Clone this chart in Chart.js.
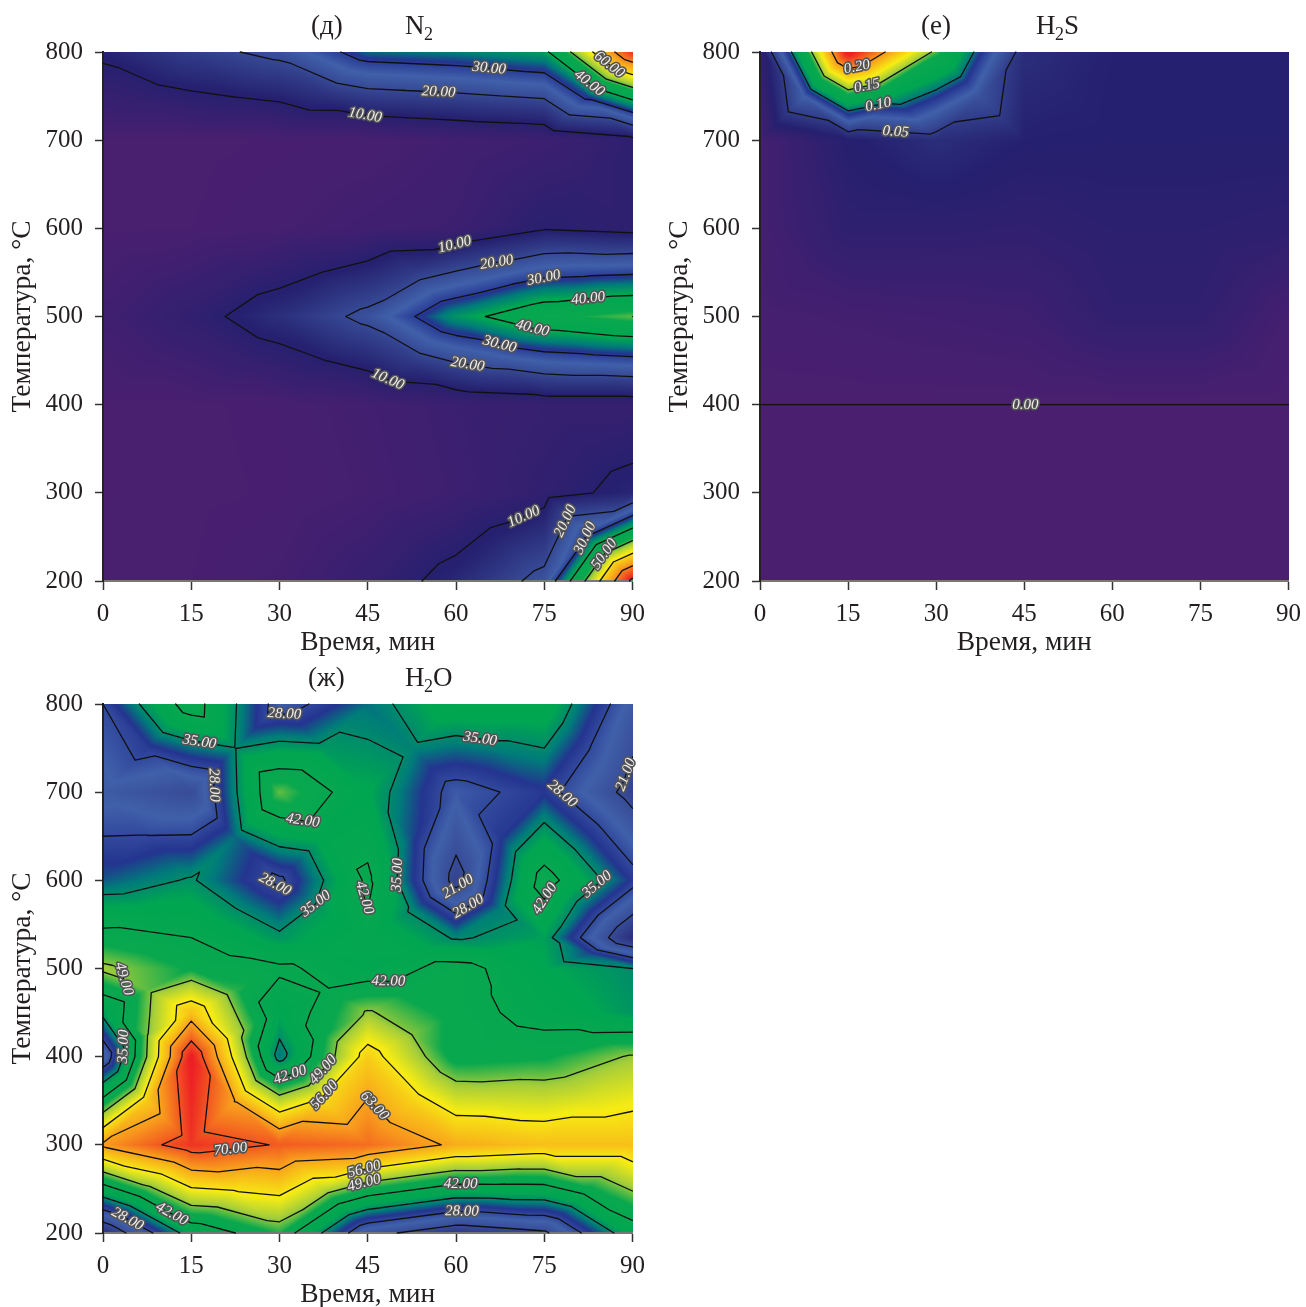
<!DOCTYPE html>
<html>
<head>
<meta charset="utf-8">
<title>N2, H2S, H2O</title>
<script src="https://cdn.jsdelivr.net/npm/chart.js@4"></script>
<style>
  html, body { margin: 0; background: #fff; }
  body { position: relative; width: 1306px; height: 1307px; overflow: hidden; }
  canvas { position: absolute; }
  #chartN2 { left: 0; top: 0; }
  #chartH2S { left: 657px; top: 0; }
  #chartH2O { left: 0; top: 652px; }
</style>
</head>
<body>
<canvas id="chartN2" width="654" height="659"></canvas>
<canvas id="chartH2S" width="653" height="659"></canvas>
<canvas id="chartH2O" width="654" height="659"></canvas>
<script>
const times = [0, 15, 30, 45, 60, 75, 90];
const tempRows = [800, 700, 600, 500, 400, 300, 200];
const tempRowsH2O = [800, 700, 600, 535, 500, 450, 400, 300, 200];

// one list per temperature row, top to bottom
const n2Values = [
  [11.4, 17.5, 22, 33.5, 35, 38, 78],
  [0.5, 0.5, 0.8, 1, 2.7, 4, 8],
  [0.5, 0.7, 1.5, 3, 4, 9.5, 8],
  [3, 7.5, 14, 22, 37, 46, 50],
  [0.4, 0.5, 1, 2.5, 4.5, 6, 6],
  [0.4, 0.5, 0.8, 2, 4, 7.5, 12],
  [0.5, 0.7, 2, 6, 12.5, 22.5, 82]
];
const h2sValues = [
  [0.022, 0.24, 0.145, 0.04, 0.032, 0.032, 0.032],
  [0.006, 0.03, 0.04, 0.032, 0.031, 0.031, 0.031],
  [0.006, 0.024, 0.024, 0.022, 0.026, 0.026, 0.024],
  [0.004, 0.006, 0.008, 0.01, 0.022, 0.022, 0.005],
  [0.0005, 0.0005, 0.0005, 0.0005, 0.0005, 0.0005, 0.0005],
  [0, 0, 0, 0, 0, 0, 0],
  [0, 0, 0, 0, 0, 0, 0]
];
const h2oValues = [
  [28, 45, 25.5, 33, 40, 40, 24],
  [24, 21, 48, 38, 26, 30, 19],
  [32, 35.5, 27, 43, 19, 44.5, 30],
  [44, 42, 36, 41, 34.5, 37, 15],
  [50, 45, 43, 39, 44, 38, 35],
  [36.5, 60, 38, 49.5, 44, 40, 36],
  [23, 75.5, 33, 58.5, 44, 45, 49.5],
  [64, 73, 69.6, 68, 62, 60, 60],
  [15, 38, 46, 23, 17, 20, 39]
];

const n2Levels = [10, 20, 30, 40, 50, 60, 70, 80];
const h2sLevels = [0.0005, 0.05, 0.10, 0.15, 0.20];
const h2oLevels = [21, 28, 35, 42, 49, 56, 63, 70];

// contour labels: value, then roughly where it sits (min, deg C)
const n2Labels = [
  [30, 65.6, 780], [20, 57, 751], [10, 44.4, 723], [40, 82, 759], [60, 85.4, 780],
  [10, 59.8, 581], [20, 67, 558], [30, 75, 541], [40, 82.5, 518], [40, 72.9, 485],
  [30, 67.3, 466], [20, 61.9, 443], [10, 48.3, 427], [10, 72, 266], [20, 79.2, 266],
  [30, 82.5, 247], [50, 85.3, 230]
];
const h2sLabels = [
  [0.20, 16.6, 780], [0.15, 18.3, 759], [0.10, 20.2, 738], [0.05, 23.1, 708], [0.0005, 45.2, 400]
];
const h2oLabels = [
  [35, 16.3, 753], [28, 30.8, 786], [35, 64, 756], [28, 18.5, 708], [42, 33.9, 666],
  [28, 78.3, 700], [21, 87.6, 723], [28, 28.8, 590], [35, 36.6, 572], [42, 44.2, 580],
  [35, 50.5, 606], [21, 60.5, 591], [28, 62.2, 569], [42, 75.4, 578], [35, 84.4, 592],
  [49, 3.7, 476], [35, 4, 413], [42, 48.5, 472], [42, 31.9, 377], [49, 37.8, 383],
  [56, 38, 354], [63, 45.4, 340], [70, 21.7, 293], [56, 44.4, 272], [49, 44.4, 256],
  [42, 60.8, 252], [28, 61, 221], [42, 11.4, 218], [28, 4, 214]
];

// colour ramp of the plots
const ramp = [
  [0, 75, 31, 112], [0.13, 37, 32, 111], [0.31, 64, 96, 170], [0.38, 36, 52, 144],
  [0.42, 0, 123, 122], [0.475, 0, 166, 81], [0.58, 10, 168, 78], [0.64, 166, 206, 57],
  [0.71, 247, 236, 19], [0.83, 248, 152, 29], [0.97, 237, 32, 36]
];

function rampColor(f) {
  if (f <= 0) return ramp[0].slice(1);
  for (let i = 1; i < ramp.length; i++) {
    if (f <= ramp[i][0]) {
      const a = ramp[i - 1], b = ramp[i];
      const k = (f - a[0]) / (b[0] - a[0]);
      return [a[1] + (b[1] - a[1]) * k, a[2] + (b[2] - a[2]) * k, a[3] + (b[3] - a[3]) * k];
    }
  }
  return ramp[ramp.length - 1].slice(1);
}

// value inside a grid, each cell split in four triangles around its centre
function gridValue(rows, values, t, T) {
  let i = 0;
  while (i < times.length - 2 && t > times[i + 1]) i++;
  let j = 0;
  while (j < rows.length - 2 && T < rows[j + 1]) j++;
  const u = (t - times[i]) / (times[i + 1] - times[i]);
  const v = (T - rows[j + 1]) / (rows[j] - rows[j + 1]);
  const a = values[j + 1][i], b = values[j + 1][i + 1], c = values[j][i + 1], d = values[j][i];
  const m = (a + b + c + d) / 4;
  if (v <= u && v <= 1 - u) return a * (1 - u - v) + b * (u - v) + m * 2 * v;
  if (v >= u && v >= 1 - u) return d * (v - u) + c * (u + v - 1) + m * 2 * (1 - v);
  if (u <= v) return a * (1 - v - u) + d * (v - u) + m * 2 * u;
  return b * (u - v) + c * (u + v - 1) + m * 2 * (1 - u);
}

function contourSegments(rows, values, level, xs, ys) {
  const segs = [];
  const cross = (p, q) => {
    const k = (level - p[2]) / (q[2] - p[2]);
    return [p[0] + (q[0] - p[0]) * k, p[1] + (q[1] - p[1]) * k];
  };
  for (let j = 0; j < rows.length - 1; j++) {
    for (let i = 0; i < times.length - 1; i++) {
      const a = [xs.getPixelForValue(times[i]), ys.getPixelForValue(rows[j + 1]), values[j + 1][i]];
      const b = [xs.getPixelForValue(times[i + 1]), a[1], values[j + 1][i + 1]];
      const c = [b[0], ys.getPixelForValue(rows[j]), values[j][i + 1]];
      const d = [a[0], c[1], values[j][i]];
      const m = [(a[0] + b[0]) / 2, (a[1] + c[1]) / 2, (a[2] + b[2] + c[2] + d[2]) / 4];
      [[a, b], [b, c], [c, d], [d, a]].forEach(([p, q]) => {
        const tri = [p, q, m];
        const pts = [];
        for (let n = 0; n < 3; n++) {
          const s = tri[n], e = tri[(n + 1) % 3];
          if ((s[2] >= level) !== (e[2] >= level)) pts.push(cross(s, e));
        }
        if (pts.length === 2) segs.push(pts);
      });
    }
  }
  return segs;
}

const contourPlugin = {
  id: 'contourMap',
  beforeDraw(chart, args, opts) {
    const { left, top, width, height } = chart.chartArea;
    const xs = chart.scales.x, ys = chart.scales.y;
    const w = Math.round(width), h = Math.round(height);
    const off = document.createElement('canvas');
    off.width = w;
    off.height = h;
    const g = off.getContext('2d');
    const img = g.createImageData(w, h);
    for (let py = 0; py < h; py++) {
      const T = ys.getValueForPixel(top + py + 0.5);
      for (let px = 0; px < w; px++) {
        const t = xs.getValueForPixel(left + px + 0.5);
        const val = gridValue(opts.rows, opts.values, t, T);
        const col = rampColor((val - opts.min) / (opts.max - opts.min));
        const p = (py * w + px) * 4;
        img.data[p] = col[0];
        img.data[p + 1] = col[1];
        img.data[p + 2] = col[2];
        img.data[p + 3] = 255;
      }
    }
    g.putImageData(img, 0, 0);
    chart.ctx.drawImage(off, left, top);
  },
  afterDatasetsDraw(chart, args, opts) {
    const ctx = chart.ctx;
    const xs = chart.scales.x, ys = chart.scales.y;
    const segsByLevel = new Map();
    ctx.save();
    ctx.strokeStyle = '#111';
    ctx.lineWidth = 1.3;
    ctx.lineCap = 'round';
    opts.levels.forEach(level => {
      const segs = contourSegments(opts.rows, opts.values, level, xs, ys);
      segsByLevel.set(level, segs);
      ctx.beginPath();
      segs.forEach(s => {
        ctx.moveTo(s[0][0], s[0][1]);
        ctx.lineTo(s[1][0], s[1][1]);
      });
      ctx.stroke();
    });
    // labels snap to the closest piece of their own line
    ctx.font = 'italic 15px "Liberation Serif"';
    ctx.textAlign = 'center';
    ctx.textBaseline = 'middle';
    ctx.lineJoin = 'round';
    opts.labels.forEach(([level, t, T]) => {
      const px = xs.getPixelForValue(t), py = ys.getPixelForValue(T);
      let best = null, bestD = Infinity;
      (segsByLevel.get(level) || []).forEach(s => {
        const dx = s[1][0] - s[0][0], dy = s[1][1] - s[0][1];
        const len = dx * dx + dy * dy;
        if (len < 0.01) return;
        const k = Math.max(0, Math.min(1, ((px - s[0][0]) * dx + (py - s[0][1]) * dy) / len));
        const qx = s[0][0] + dx * k, qy = s[0][1] + dy * k;
        const d = (qx - px) ** 2 + (qy - py) ** 2;
        if (d < bestD) { bestD = d; best = { x: qx, y: qy, a: Math.atan2(dy, dx) }; }
      });
      if (!best) return;
      let a = best.a;
      if (a > Math.PI / 2) a -= Math.PI;
      if (a < -Math.PI / 2) a += Math.PI;
      ctx.save();
      ctx.translate(best.x, best.y);
      ctx.rotate(a);
      const text = level.toFixed(2);
      ctx.strokeStyle = '#555';
      ctx.lineWidth = 3.2;
      ctx.strokeText(text, 0, 0);
      ctx.fillStyle = '#f2efee';
      ctx.fillText(text, 0, 0);
      ctx.restore();
    });
    ctx.restore();
  },
  afterDraw(chart, args, opts) {
    const ctx = chart.ctx;
    ctx.save();
    ctx.fillStyle = '#231f20';
    ctx.textBaseline = 'alphabetic';
    ctx.textAlign = 'left';
    opts.title.forEach(([text, x, sub]) => {
      ctx.font = sub ? '18px "Liberation Serif"' : '27px "Liberation Serif"';
      ctx.fillText(text, x, sub ? 40 : 34);
    });
    ctx.restore();
  }
};

function makeChart(id, rows, values, levels, labels, min, max, title, rightPad) {
  const points = [];
  rows.forEach((T, j) => times.forEach((t, i) => points.push({ x: t, y: T, v: values[j][i] })));
  const tickFont = { family: '"Liberation Serif"', size: 25 };
  const titleFont = { family: '"Liberation Serif"', size: 27.5 };
  return new Chart(document.getElementById(id), {
    type: 'scatter',
    data: { datasets: [{ data: points, pointRadius: 0, pointHoverRadius: 0 }] },
    plugins: [contourPlugin],
    options: {
      responsive: false,
      animation: false,
      layout: { padding: { top: 52, right: rightPad } },
      plugins: {
        legend: { display: false },
        tooltip: { enabled: false },
        contourMap: { rows, values, levels, labels, min, max, title }
      },
      scales: {
        x: {
          type: 'linear', min: 0, max: 90,
          afterFit: s => { s.height = 78; },
          border: { color: '#777', width: 2 },
          grid: { drawOnChartArea: false, color: '#333', tickLength: 9, tickWidth: 1.5 },
          ticks: { stepSize: 15, color: '#231f20', font: tickFont, padding: 9, maxRotation: 0 },
          title: { display: true, text: 'Время, мин', color: '#231f20', font: titleFont, padding: { top: 0, bottom: 0 } }
        },
        y: {
          type: 'linear', min: 200, max: 800,
          afterFit: s => { s.width = 103; },
          border: { color: '#222', width: 2 },
          grid: { drawOnChartArea: false, color: '#333', tickLength: 8, tickWidth: 1.5 },
          ticks: { stepSize: 100, color: '#231f20', font: tickFont, padding: 12 },
          title: { display: true, text: 'Температура, °С', color: '#231f20', font: titleFont, padding: { top: 6, bottom: 0 } }
        }
      }
    }
  });
}

makeChart('chartN2', tempRows, n2Values, n2Levels, n2Labels, 0, 82,
  [['(д)', 311], ['N', 405], ['2', 424, true]], 19);
makeChart('chartH2S', tempRows, h2sValues, h2sLevels, h2sLabels, 0, 0.24,
  [['(е)', 264], ['H', 379], ['2', 398, true], ['S', 407]], 19);
makeChart('chartH2O', tempRowsH2O, h2oValues, h2oLevels, h2oLabels, 2, 77,
  [['(ж)', 308], ['H', 405], ['2', 424, true], ['O', 433]], 19);
</script>
</body>
</html>
